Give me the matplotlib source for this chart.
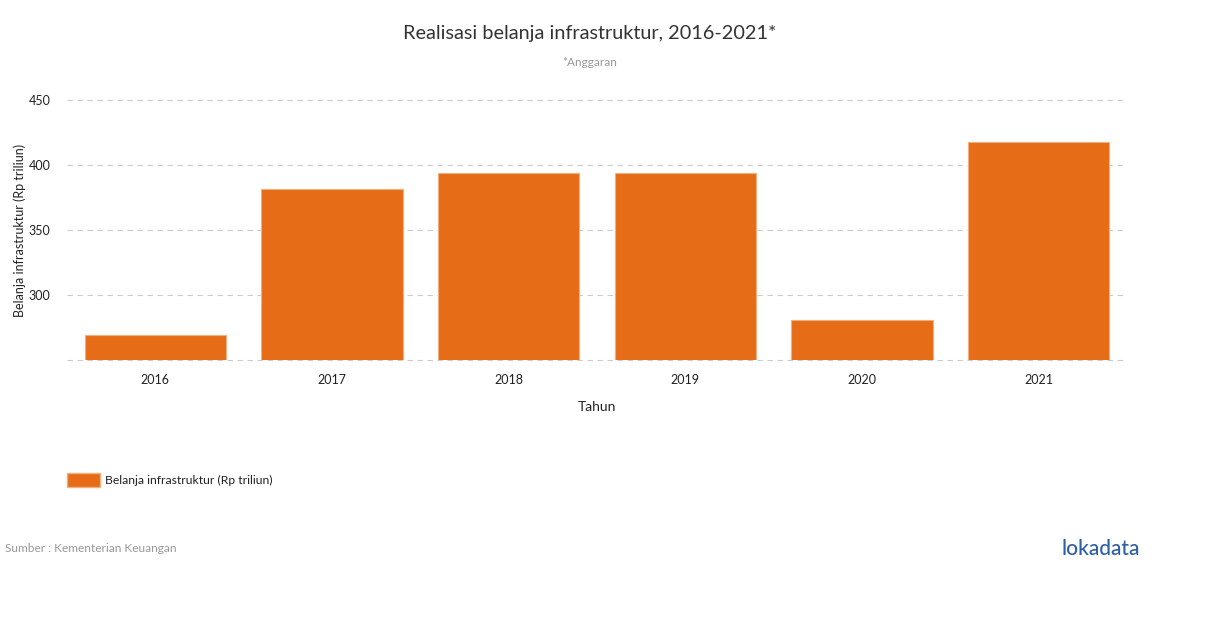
import matplotlib
matplotlib.use("Agg")
import matplotlib.pyplot as plt
from matplotlib.patches import Patch

years = ["2016", "2017", "2018", "2019", "2020", "2021"]
values = [269.1, 381.5, 393.8, 393.8, 280.9, 417.8]
yticks = [300, 350, 400, 450]

plt.rcParams['font.family'] = ['Lato', 'DejaVu Sans']

fig = plt.figure(figsize=(12.1, 6.28), dpi=100)
ax = fig.add_axes([67/1210, 1-360/628, (1127-67)/1210, 260/628])

x = list(range(len(years)))
ax.bar(x, values, width=0.8, color="#E66C17", edgecolor="#F2B07E", linewidth=0.8,
       zorder=3, bottom=0)
ax.set_ylim(250, 450)
ax.set_xlim(-0.5, 5.5)
ax.set_xticks(x)
ax.set_xticklabels(years, fontsize=9, color="#222222")
ax.set_yticks([250] + yticks)
ax.set_yticklabels([""] + [str(v) for v in yticks], fontsize=9, color="#222222")
ax.tick_params(axis='x', length=0, pad=10)
ax.tick_params(axis='y', length=0, pad=12)
ax.grid(axis='y', linestyle=(0, (5, 4)), color="#cccccc", linewidth=0.8, zorder=0)
for gl in ax.get_ygridlines():
    gl.set_clip_on(False)
for s in ax.spines.values():
    s.set_visible(False)

ax.set_ylabel("Belanja infrastruktur (Rp triliun)", fontsize=9, color="#222222", labelpad=2)
ax.set_xlabel("Tahun", fontsize=10, color="#222222", labelpad=11)

fig.text(590/1210, 1-33/628, "Realisasi belanja infrastruktur, 2016-2021*", ha="center", va="center",
         fontsize=14.3, color="#333333")
fig.text(590/1210, 1-62/628, "*Anggaran", ha="center", va="center", fontsize=8.5, color="#999999")

leg = fig.legend(handles=[Patch(facecolor="#E66C17", edgecolor="#F2B07E")],
                 labels=["Belanja infrastruktur (Rp triliun)"],
                 loc="center left", bbox_to_anchor=(56/1210, 1-480/628), frameon=False,
                 fontsize=8.7, handlelength=2.7, handleheight=1.4, handletextpad=0.45)
for t in leg.get_texts():
    t.set_color("#222222")

fig.text(5/1210, 1-548/628, "Sumber : Kementerian Keuangan", ha="left", va="center",
         fontsize=8.6, color="#999999")
fig.text(1140/1210, 1-549/628, "lokadata", ha="right", va="center", fontsize=15,
         color="#2D5FA6", fontweight="medium")

fig.savefig("out.png", dpi=100)
